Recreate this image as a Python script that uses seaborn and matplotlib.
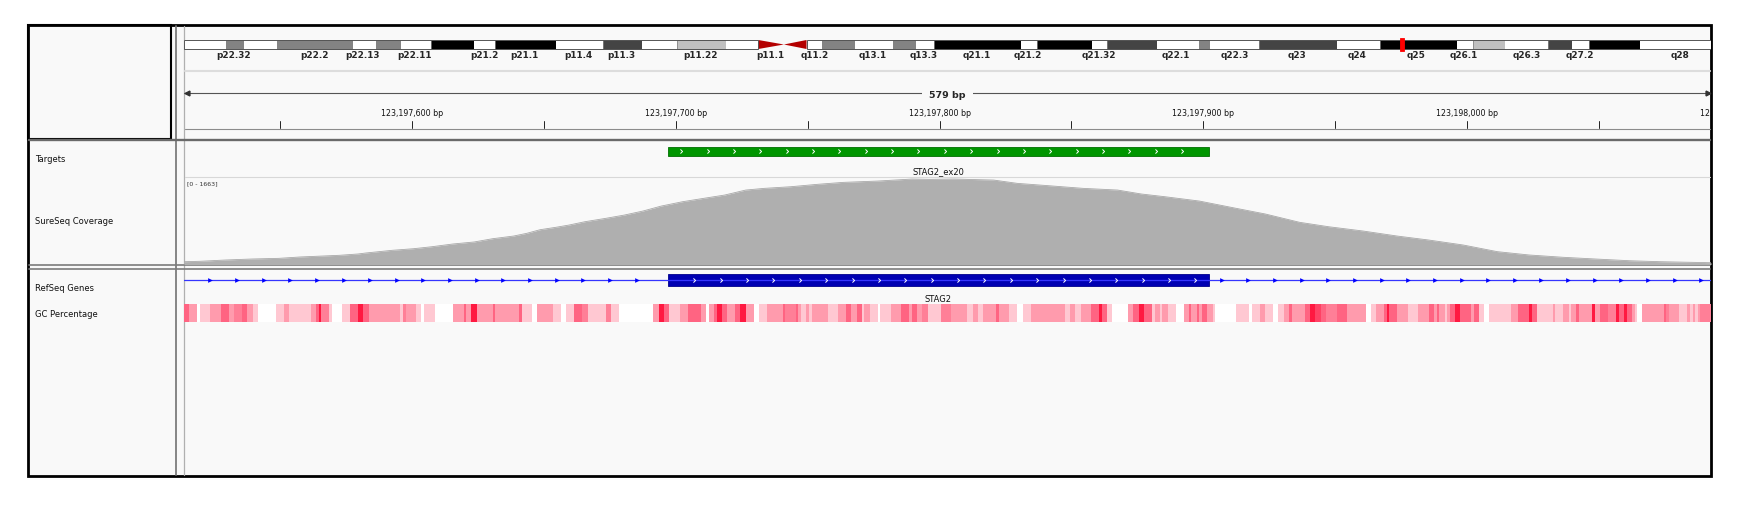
import numpy as np
import matplotlib
matplotlib.use("Agg")
import matplotlib.pyplot as plt
import seaborn as sns
from matplotlib.colors import LinearSegmentedColormap
from matplotlib.patches import Rectangle, Polygon

W, H = 1744, 510
BG = "#f9f9f9"

# visible window on chrX (579 bp)
VIEW_START = 123197513.5
VIEW_END = 123198092.5
CHR_LEN = 155.27  # Mb

# ideogram of chrX, Mb
band_start = [0, 4.3, 6.1, 9.5, 17.2, 19.5, 22.1, 25.1, 29.5, 31.6, 37.8, 42.6, 46.6, 50.1, 55.1,
              58.4, 61.0, 63.3, 64.9, 68.2, 72.1, 74.4, 76.3, 85.1, 86.7, 92.3, 93.9, 98.9, 103.2,
              104.3, 109.3, 117.2, 121.6, 129.4, 131.1, 134.3, 138.7, 141.1, 142.9, 148.0]
band_end = band_start[1:] + [CHR_LEN]
band_stain = ["gneg", "gpos50", "gneg", "gpos50", "gneg", "gpos50", "gneg", "gpos100", "gneg",
              "gpos100", "gneg", "gpos75", "gneg", "gpos25", "gneg", "acen_p", "acen_q", "gneg",
              "gpos50", "gneg", "gpos50", "gneg", "gpos100", "gneg", "gpos100", "gneg", "gpos75",
              "gneg", "gpos50", "gneg", "gpos75", "gneg", "gpos100", "gneg", "gpos25", "gneg",
              "gpos75", "gneg", "gpos100", "gneg"]
band_label = ["p22.32", "p22.2", "p22.13", "p22.11", "p21.2", "p21.1", "p11.4", "p11.3", "p11.22",
              "p11.1", "q11.2", "q13.1", "q13.3", "q21.1", "q21.2", "q21.32", "q22.1", "q22.3",
              "q23", "q24", "q25", "q26.1", "q26.3", "q27.2", "q28"]
band_label_mb = [5.0, 13.3, 18.2, 23.4, 30.5, 34.6, 40.1, 44.5, 52.5, 59.6, 64.1, 70.0, 75.2, 80.6,
                 85.8, 93.0, 100.9, 106.8, 113.2, 119.3, 125.3, 130.1, 136.5, 141.9, 152.1]
view_box_mb = [123.6, 124.05]

# features
target_start = [123197697]
target_end = [123197902]
target_name = ["STAG2_ex20"]
exon_start = [123197697]
exon_end = [123197902]
gene_name = "STAG2"

# coverage (offset from window start in bp, depth)
COV_MAX = 1663
cov_offset = [0, 6, 16, 26, 36, 44, 53, 59, 66, 69, 79, 87, 94, 102, 110, 117, 125, 130, 135, 141,
              146, 152, 160, 167, 174, 181, 189, 197, 205, 213, 220, 230, 240, 250, 263, 276, 283,
              292, 307, 316, 328, 341, 354, 363, 372, 385, 397, 410, 423, 434, 447, 460, 472, 485,
              498, 510, 523, 535, 548, 560, 579]
cov_depth = [53, 61, 86, 105, 117, 143, 162, 175, 200, 219, 270, 300, 338, 390, 428, 490, 541, 593,
             661, 707, 750, 813, 878, 940, 1016, 1111, 1193, 1257, 1320, 1415, 1447, 1478, 1523,
             1561, 1586, 1624, 1618, 1624, 1605, 1542, 1497, 1447, 1415, 1340, 1288, 1206, 1087,
             960, 802, 718, 637, 541, 465, 371, 244, 181, 137, 105, 72, 53, 34]

# GC percentage, run starts (bp offset) and value of each run
gc_start = [0, 2, 5, 6, 10, 14, 17, 19, 22, 24, 26, 28, 35, 38, 40, 48, 50, 51, 52, 55, 56, 60, 63,
            66, 68, 70, 82, 83, 84, 88, 90, 91, 95, 102, 106, 107, 109, 111, 117, 118, 127, 128,
            132, 134, 140, 143, 145,
            148, 151, 153, 160, 162, 165, 178, 180, 182, 184, 188, 191, 196, 198, 199, 201, 202,
            204, 206, 209, 211, 213, 216, 218, 221, 227, 228, 232, 233, 234, 236, 237, 238, 244,
            248, 251, 253, 255, 257, 258, 260, 263, 264, 268, 272, 275, 276, 278, 280, 282, 287,
            291, 297, 299, 301, 303, 308, 309, 313, 316, 318, 321, 334, 336, 338, 340, 344, 347,
            348, 350, 352, 358, 360, 362, 364, 367, 368, 370, 371, 373, 376, 379, 381, 382, 384,
            385, 386, 388, 390, 391, 399, 404, 405, 408, 410, 413, 415, 417, 419, 420, 425, 427,
            429, 431, 433,
            437, 441, 448, 450, 452, 455, 456, 457, 460, 464, 468, 472, 474, 475, 476, 478, 479,
            480, 482, 484, 488, 489, 491, 493, 495, 503, 506, 510, 511, 513, 519, 520, 523, 525,
            526, 528, 529, 534, 535, 537, 540, 543, 544, 546, 547, 549, 550, 551, 553, 561, 562,
            563, 567, 570, 571, 572, 573, 574, 575]
gc_value = [65, 55, 30, 45, 55, 65, 55, 60, 65, 55, 45, 30, 45, 55, 45, 55, 65, 78, 60, 45, 30, 45,
            65, 78, 65, 55, 45, 60, 55, 45, 30, 45, 30, 55, 65, 55, 78, 55, 65, 55, 65, 45, 30, 55,
            45, 30, 45,
            65, 60, 45, 60, 45, 30, 55, 78, 65, 45, 55, 65, 55, 30, 55, 65, 78, 65, 55, 65, 78, 55,
            30, 45, 55, 65, 60, 65, 55, 45, 55, 45, 55, 45, 55, 65, 55, 65, 45, 55, 45, 30, 45, 55,
            65, 55, 65, 55, 60, 45, 60,
            55, 45, 55, 45, 55, 65, 55, 45, 30, 45, 55, 45, 55, 45, 55, 65, 78, 65, 45, 30, 55, 65,
            78, 65, 45, 55, 45, 55, 45, 30, 55, 65, 55, 65, 55, 65, 55, 45, 30, 45, 30, 45, 55, 45,
            30, 45, 55, 65, 55, 65, 78, 70, 65, 60,
            65, 55, 30, 45, 55, 65, 78, 65, 55, 45, 55, 65, 55, 65, 55, 45, 55, 65, 78, 65, 55, 65,
            45, 30, 45, 55, 65, 78, 65, 45, 55, 45, 55, 45, 55, 65, 55, 78, 55, 65, 60, 78, 65, 78,
            65, 55, 45, 30, 55, 65, 60, 55, 45, 55, 45, 55, 45, 55, 60]

track_names = ["Targets", "SureSeq Coverage", "RefSeq Genes", "GC Percentage"]
track_name_y = [160, 222, 289, 315]

stain_colors = {"gneg": "white", "gpos25": "#c0c0c0", "gpos50": "#838383",
                "gpos75": "#444444", "gpos100": "black"}

sns.set_theme(style="white")
plt.rcParams["font.family"] = ["DejaVu Sans"]

fig = plt.figure(figsize=(W / 100, H / 100), dpi=100)
fig.patch.set_facecolor("white")


def px_axes(x0, y0, x1, y1):
    ax = fig.add_axes([x0 / W, 1 - y1 / H, (x1 - x0) / W, (y1 - y0) / H])
    ax.set_axis_off()
    return ax


# ----- frame -----
base = px_axes(0, 0, W, H)
base.set_xlim(0, W)
base.set_ylim(H, 0)
base.add_patch(Rectangle((28, 26), 1683, 451, facecolor=BG, edgecolor="black", lw=2.0))
base.add_patch(Rectangle((28, 26), 143, 114, facecolor="none", edgecolor="black", lw=1.5))
base.plot([176, 176], [27, 476], color="#7c7c7c", lw=1.3)
base.plot([184, 184], [27, 476], color="#b0b0b0", lw=0.9)
base.plot([29, 1710], [141, 141], color="#6a6a6a", lw=1.7)
base.plot([29, 1710], [266, 266], color="#7c7c7c", lw=1.2)
base.plot([29, 1710], [270, 270], color="#7c7c7c", lw=1.2)
base.plot([185, 1710], [72, 72], color="#dddddd", lw=1.5)
base.plot([185, 1710], [130, 130], color="#8c8c8c", lw=0.8)
base.plot([185, 1710], [178, 178], color="#d8d8d8", lw=0.8)
for name, y in zip(track_names, track_name_y):
    base.text(35, y, name, fontsize=6, ha="left", va="center", color="#111111")
base.text(187, 184, f"[0 - {COV_MAX}]", fontsize=4.5, ha="left", va="center", color="#333333")

# ----- ideogram -----
ideo = px_axes(184, 30, 1711, 70)
ideo.set_xlim(0, CHR_LEN)
ideo.set_ylim(70, 30)
for s, e, st in zip(band_start, band_end, band_stain):
    if st == "acen_p":
        ideo.add_patch(Polygon([(s, 41), (e, 45.5), (s, 50)], facecolor="#b40000", edgecolor="none"))
    elif st == "acen_q":
        ideo.add_patch(Polygon([(s, 45.5), (e, 41), (e, 50)], facecolor="#b40000", edgecolor="none"))
    else:
        ideo.add_patch(Rectangle((s, 41), e - s, 9, facecolor=stain_colors[st],
                                 edgecolor="#555555" if st != "gneg" else "none", lw=0.4))
p_end = band_start[band_stain.index("acen_p")]
q_start = band_end[band_stain.index("acen_q")]
ideo.add_patch(Rectangle((0, 41), p_end, 9, facecolor="none", edgecolor="#555555", lw=0.7))
ideo.add_patch(Rectangle((q_start, 41), CHR_LEN - q_start, 9, facecolor="none",
                         edgecolor="#555555", lw=0.7))
ideo.add_patch(Rectangle((view_box_mb[0], 38.5), view_box_mb[1] - view_box_mb[0], 13,
                         facecolor="red", edgecolor="red", lw=0.6))
for lab, x in zip(band_label, band_label_mb):
    ideo.text(x, 56, lab, fontsize=6.4, fontweight="bold", ha="center", va="center")

# ----- ruler -----
ruler = px_axes(184, 80, 1711, 131)
ruler.set_xlim(VIEW_START, VIEW_END)
ruler.set_ylim(131, 80)
ruler.plot([VIEW_START, VIEW_END], [94, 94], color="#555555", lw=0.8)
ruler.plot([VIEW_START + 1.2], [94], marker="<", ms=3.5, color="#333333", clip_on=False)
ruler.plot([VIEW_END - 1.2], [94], marker=">", ms=3.5, color="#333333", clip_on=False)
span = int(round(VIEW_END - VIEW_START))
ruler.text((VIEW_START + VIEW_END) / 2, 95, f"{span} bp", fontsize=6.8, fontweight="bold",
           ha="center", va="center", bbox=dict(facecolor=BG, edgecolor="none", pad=5))
ticks = np.arange(np.ceil(VIEW_START / 50) * 50, VIEW_END + 100, 50)
for t in ticks:
    if t < VIEW_END:
        ruler.plot([t, t], [122, 129], color="#222222", lw=0.7)
    if t % 100 == 0:
        ruler.text(t, 114, f"{int(t):,} bp", fontsize=5.7, ha="center", va="center",
                   color="#111111", clip_on=True)

# ----- targets -----
tgt = px_axes(184, 142, 1711, 178)
tgt.set_xlim(VIEW_START, VIEW_END)
tgt.set_ylim(178, 142)
chevron = [(-0.5, 1), (0.5, 0), (-0.5, -1)]
for s, e, name in zip(target_start, target_end, target_name):
    tgt.add_patch(Rectangle((s, 147.5), e - s, 9.5, facecolor="#009600", edgecolor="#006e00", lw=0.6))
    xs = np.arange(s + 5, e - 2, 10)
    tgt.plot(xs, np.full(len(xs), 152.2), ls="none", marker=chevron, ms=3, mec="white",
             mfc="none", mew=0.7)
    tgt.text((s + e) / 2, 172, name, fontsize=6, ha="center", va="center", color="#111111")

# ----- coverage -----
cov = px_axes(184, 178, 1711, 265.5)
cov.set_xlim(VIEW_START, VIEW_END)
cov.set_ylim(0, COV_MAX)
cov_pos = VIEW_START + np.array(cov_offset, dtype=float)
cov.fill_between(cov_pos, cov_depth, 0, color="#afafaf", lw=0)
sns.lineplot(x=cov_pos, y=cov_depth, ax=cov, color="#a8a8a8", lw=0.6)
cov.set_axis_off()

# ----- genes -----
genes = px_axes(184, 271, 1711, 305)
genes.set_xlim(VIEW_START, VIEW_END)
genes.set_ylim(305, 271)
genes.plot([VIEW_START, VIEW_END], [281, 281], color="#3535ff", lw=0.9)
for s, e in zip(exon_start, exon_end):
    left = np.arange(VIEW_START + 10, s - 3, 10.1)
    right = np.arange(e + 5, VIEW_END, 10.1)
    arrows = np.concatenate([left, right])
    genes.plot(arrows, np.full(len(arrows), 281), ls="none", marker=">", ms=3.4,
               color="#0000ff", mew=0)
    genes.add_patch(Rectangle((s, 274.5), e - s, 12.5, facecolor="#0000b2", edgecolor="#00008c", lw=0.6))
    xs = np.arange(s + 10, e - 0.5, 10)
    genes.plot(xs, np.full(len(xs), 280.8), ls="none", marker=chevron, ms=3, mec="white",
               mfc="none", mew=0.7)
    genes.text((s + e) / 2, 300, gene_name, fontsize=6, ha="center", va="center", color="#111111")

# ----- GC percentage -----
gc_len = np.diff(gc_start + [span])
gc_per_bp = np.repeat(np.array(gc_value, dtype=float), gc_len).reshape(1, -1)
gc_cmap = LinearSegmentedColormap.from_list(
    "gc", [(0.0, "white"), (0.3125, "#ffc8d2"), (0.5208, "#ff9bad"), (0.625, "#ff8098"),
           (0.729, "#ff6482"), (0.8333, "#ff4265"), (1.0, "#ff1941")])
gc = px_axes(184, 305, 1711, 323)
sns.heatmap(gc_per_bp, ax=gc, cmap=gc_cmap, vmin=30, vmax=78, cbar=False,
            xticklabels=False, yticklabels=False)
gc.set_xlim(0, span)
gc.set_axis_off()

fig.savefig("out.png", dpi=100)
